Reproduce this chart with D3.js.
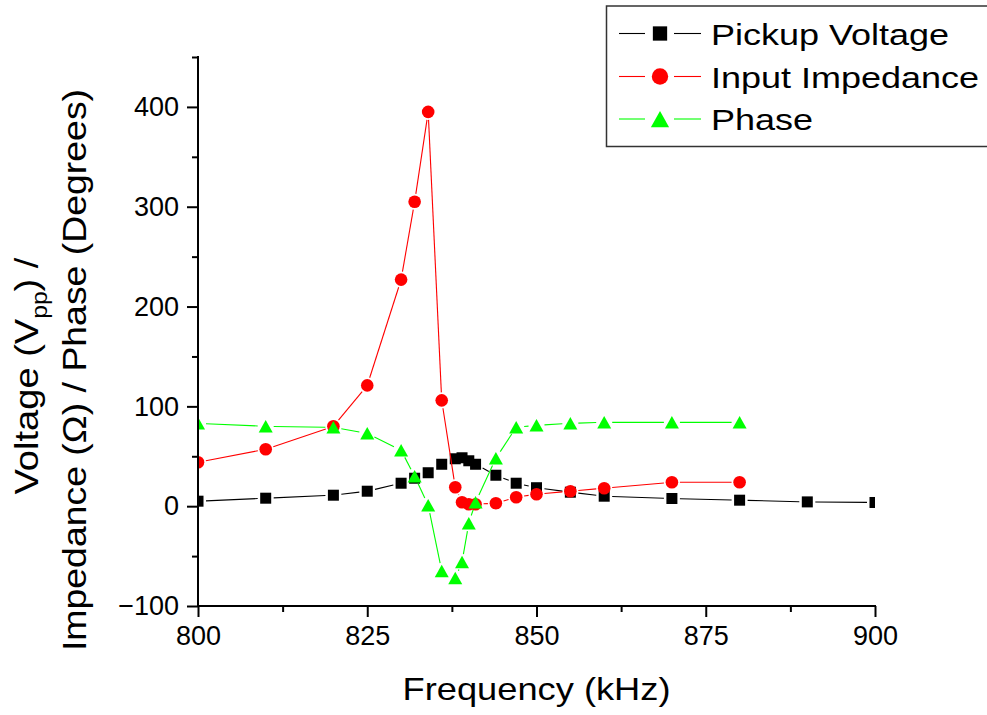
<!DOCTYPE html>
<html>
<head>
<meta charset="utf-8">
<script src="https://cdn.jsdelivr.net/npm/d3@7"></script>
<style>
  body { margin: 0; background: #fff; }
  svg { display: block; font-family: "Liberation Sans", Arial, sans-serif; }
</style>
</head>
<body>
<div id="chart"></div>
<script>
// Frequency (kHz) for each series
const voltageFreq = [800, 810, 820, 825, 830, 832, 834, 836, 838, 839, 840, 841, 844, 847, 850, 855, 860, 870, 880, 890, 900];
const voltageVals = [5, 8, 11, 15, 23, 28, 33.5, 42, 47.5, 48.5, 45.5, 42, 31, 23, 18.5, 14, 10, 7.7, 6, 4.3, 3.7];

const impedanceFreq = [800, 810, 820, 825, 830, 832, 834, 836, 838, 839, 840, 841, 844, 847, 850, 855, 860, 870, 880];
const impedanceVals = [44, 57, 80, 121, 227, 305, 395, 106, 19, 4, 2, 2, 3, 9, 12, 15, 18, 24, 24];

const phaseFreq = [800, 810, 820, 825, 830, 832, 834, 836, 838, 839, 840, 841, 844, 847, 850, 855, 860, 870, 880];
const phaseVals = [83, 80, 79, 73, 56, 30, 1, -65, -72, -56, -17, 4, 48, 79, 81, 83, 84, 84, 84];

const xTicks = [800, 825, 850, 875, 900];
const yTicks = [-100, 0, 100, 200, 300, 400];

const series = [
  { name: "Pickup Voltage", color: "#000000", shape: "square", freq: voltageFreq, vals: voltageVals },
  { name: "Input Impedance", color: "#ff0000", shape: "circle", freq: impedanceFreq, vals: impedanceVals },
  { name: "Phase", color: "#00ff00", shape: "triangle", freq: phaseFreq, vals: phaseVals }
];

const width = 987, height = 715;
const plotLeft = 198, plotRight = 875, plotTop = 57, plotBottom = 606;

const x = d3.scaleLinear().domain([800, 900]).range([plotLeft, plotRight]);
const y = d3.scaleLinear().domain([-100, 450]).range([plotBottom, plotTop]);

const svg = d3.select("#chart").append("svg")
  .attr("width", width)
  .attr("height", height);

svg.append("defs").append("clipPath").attr("id", "plot-clip")
  .append("rect")
  .attr("x", plotLeft).attr("y", plotTop)
  .attr("width", plotRight - plotLeft).attr("height", plotBottom - plotTop);

// marker drawing, s = scale factor
function marker(g, shape, color, cx, cy, s) {
  if (shape === "square") {
    const a = 11 * s;
    g.append("rect").attr("x", cx - a / 2).attr("y", cy - a / 2)
      .attr("width", a).attr("height", a).attr("fill", color);
  } else if (shape === "circle") {
    g.append("circle").attr("cx", cx).attr("cy", cy).attr("r", 6.3 * s).attr("fill", color);
  } else {
    const w = 14 * s, h = 12.5 * s;
    g.append("path")
      .attr("d", `M${cx},${cy - h / 2}L${cx + w / 2},${cy + h / 2}L${cx - w / 2},${cy + h / 2}Z`)
      .attr("fill", color);
  }
}

const plot = svg.append("g").attr("clip-path", "url(#plot-clip)");
const gap = 8;

series.forEach(s => {
  const pts = s.freq.map((f, i) => [x(f), y(s.vals[i])]);
  const g = plot.append("g");
  // line segments with a gap around each symbol
  for (let i = 0; i < pts.length - 1; i++) {
    const [x0, y0] = pts[i], [x1, y1] = pts[i + 1];
    const len = Math.hypot(x1 - x0, y1 - y0);
    if (len <= 2 * gap) continue;
    const ux = (x1 - x0) / len, uy = (y1 - y0) / len;
    g.append("line")
      .attr("x1", x0 + ux * gap).attr("y1", y0 + uy * gap)
      .attr("x2", x1 - ux * gap).attr("y2", y1 - uy * gap)
      .attr("stroke", s.color).attr("stroke-width", 1.1);
  }
  pts.forEach(p => marker(g, s.shape, s.color, p[0], p[1], 1));
});

// axes
const xAxis = svg.append("g").attr("transform", `translate(0,${plotBottom})`)
  .call(d3.axisBottom(x).tickValues(xTicks).tickSize(11).tickPadding(9).tickFormat(d3.format("d")));
const xMinor = svg.append("g").attr("transform", `translate(0,${plotBottom})`)
  .call(d3.axisBottom(x).tickValues([812.5, 837.5, 862.5, 887.5]).tickSize(6).tickFormat(""));

const yAxis = svg.append("g").attr("transform", `translate(${plotLeft},0)`)
  .call(d3.axisLeft(y).tickValues(yTicks).tickSize(11).tickPadding(8).tickFormat(d3.format("d")));
const yMinor = svg.append("g").attr("transform", `translate(${plotLeft},0)`)
  .call(d3.axisLeft(y).tickValues([-50, 50, 150, 250, 350, 450]).tickSize(6).tickFormat(""));

[xAxis, xMinor, yAxis, yMinor].forEach(a => {
  a.select(".domain").remove();
  a.selectAll(".tick line").attr("stroke-width", 2);
  a.selectAll(".tick text").attr("font-size", 27).attr("font-family", "Liberation Sans, Arial, sans-serif").attr("fill", "#000");
});
// axis lines
svg.append("line").attr("x1", plotLeft).attr("x2", plotRight + 1).attr("y1", plotBottom).attr("y2", plotBottom)
  .attr("stroke", "#000").attr("stroke-width", 2);
svg.append("line").attr("x1", plotLeft).attr("x2", plotLeft).attr("y1", plotTop - 1).attr("y2", plotBottom)
  .attr("stroke", "#000").attr("stroke-width", 2);

// x title
svg.append("g").attr("transform", "translate(536.5,700) scale(1.17,1)")
  .append("text").attr("text-anchor", "middle").attr("font-size", 31)
  .text("Frequency (kHz)");

// y title, two lines
const yt1 = svg.append("g").attr("transform", "translate(38,376) rotate(-90) scale(1.12,1)")
  .append("text").attr("text-anchor", "middle").attr("font-size", 34);
yt1.append("tspan").text("Voltage (V");
yt1.append("tspan").attr("font-size", 22).attr("dy", 9).text("pp");
yt1.append("tspan").attr("dy", -9).text(") /");

svg.append("g").attr("transform", "translate(86,370) rotate(-90) scale(1.1,1)")
  .append("text").attr("text-anchor", "middle").attr("font-size", 34)
  .text("Impedance (\u03A9) / Phase (Degrees)");

// legend
const legend = svg.append("g");
legend.append("rect")
  .attr("x", 606.5).attr("y", 6).attr("width", 400).attr("height", 140.5)
  .attr("fill", "#fff").attr("stroke", "#333").attr("stroke-width", 1.5);

const rowY = [33.5, 76.5, 119];
series.forEach((s, i) => {
  const ry = rowY[i];
  legend.append("line").attr("x1", 619).attr("x2", 645).attr("y1", ry).attr("y2", ry)
    .attr("stroke", s.color).attr("stroke-width", 1.1);
  legend.append("line").attr("x1", 674).attr("x2", 701).attr("y1", ry).attr("y2", ry)
    .attr("stroke", s.color).attr("stroke-width", 1.1);
  marker(legend, s.shape, s.color, 660, ry, 1.3);
  legend.append("g").attr("transform", `translate(711,${ry + 11}) scale(1.2,1)`)
    .append("text").attr("font-size", 30).text(s.name);
});
</script>
</body>
</html>
